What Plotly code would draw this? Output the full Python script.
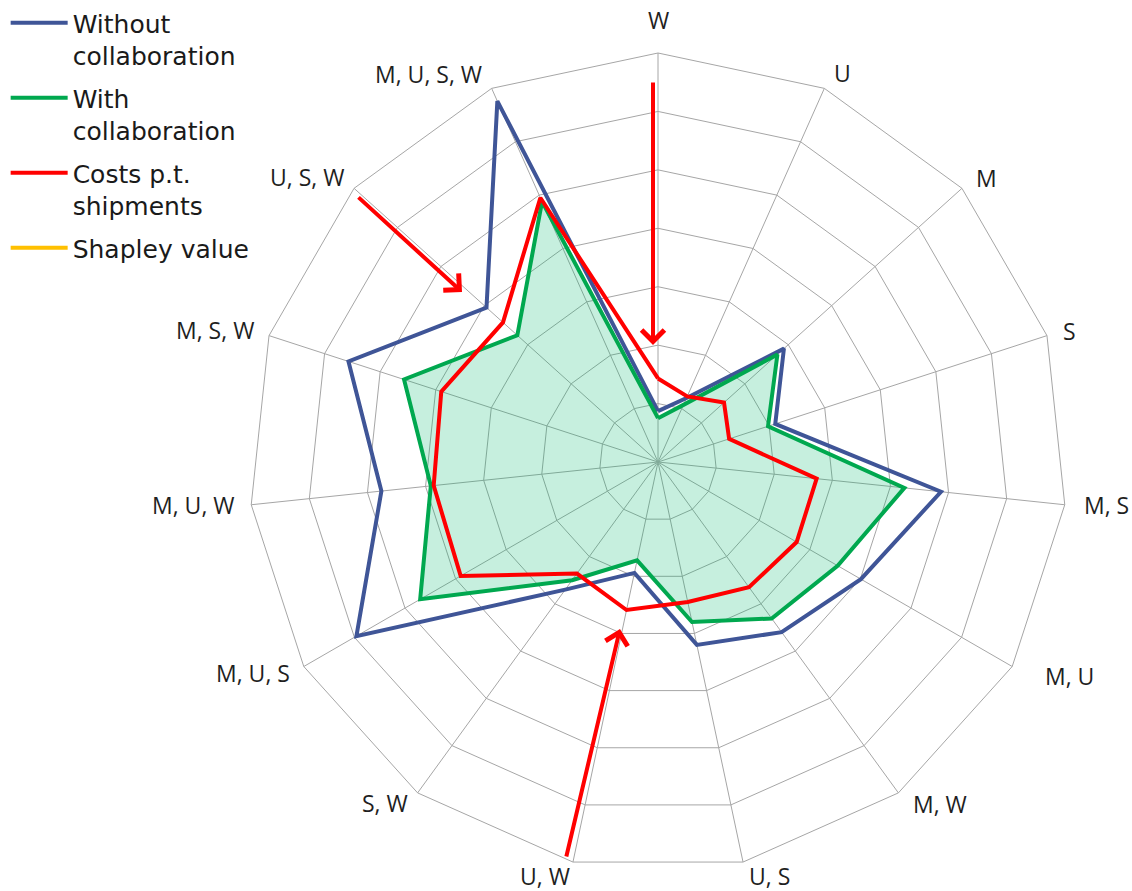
import plotly.graph_objects as go

categories = ["W", "U", "M", "S", "M, S", "M, U", "M, W", "U, S", "U, W",
              "S, W", "M, U, S", "M, U, W", "M, S, W", "U, S, W", "M, U, S, W"]

without_collab = [0.87, 1.20, 2.90, 2.11, 4.87, 4.01, 3.60, 3.20, 1.94,
                  2.70, 5.96, 4.76, 5.57, 3.95, 6.76]
with_collab = [0.75, 1.07, 2.75, 1.98, 4.24, 3.55, 3.31, 2.80, 1.72,
               2.50, 4.70, 3.91, 4.57, 3.24, 4.88]
costs_pt = [1.43, 1.23, 1.52, 1.28, 2.73, 2.74, 2.65, 2.45, 2.59,
            2.36, 3.90, 3.86, 3.90, 3.57, 4.95]
shapley = []

W, H = 1132, 891

# category label centres (pixels) around the web
label_xy = [(658, 20), (842, 73), (986, 178), (1069, 331), (1106, 505),
            (1069, 676), (940, 804), (770, 876), (545, 876), (385, 803),
            (253, 673), (193, 505), (215, 330), (307, 177), (429, 74)]


def closed(v):
    return v + v[:1]


theta = closed(categories)

fig = go.Figure()
fig.add_trace(go.Scatterpolar(
    r=closed(with_collab), theta=theta, mode="lines", fill="toself",
    fillcolor="rgba(0,183,107,0.225)", line=dict(color="rgba(0,0,0,0)", width=0),
    showlegend=False, hoverinfo="skip"))
fig.add_trace(go.Scatterpolar(
    r=closed(without_collab), theta=theta, mode="lines", name="Without<br>collaboration",
    legendgroup="a", line=dict(color="#3F5597", width=4)))
fig.add_trace(go.Scatterpolar(
    r=closed(with_collab), theta=theta, mode="lines", name="With<br>collaboration",
    legendgroup="b", line=dict(color="#00A84F", width=4)))
fig.add_trace(go.Scatterpolar(
    r=closed(costs_pt), theta=theta, mode="lines", name="Costs p.t.<br>shipments",
    legendgroup="c", line=dict(color="#FF0000", width=4)))
fig.add_trace(go.Scatterpolar(
    r=shapley if shapley else [None], theta=categories[:1], mode="lines", name="Shapley value",
    legendgroup="d", line=dict(color="#FFC000", width=4)))

cx, cy, R = 658, 462, 409
fig.update_layout(
    width=W, height=H, autosize=False,
    margin=dict(l=0, r=0, t=0, b=0),
    paper_bgcolor="white",
    polar=dict(
        domain=dict(x=[(cx - R) / W, (cx + R) / W], y=[1 - (cy + R) / H, 1 - (cy - R) / H]),
        bgcolor="white",
        gridshape="linear",
        radialaxis=dict(range=[0, 7], dtick=1, showticklabels=False, ticks="",
                        showline=False, gridcolor="#A6A6A6", gridwidth=1),
        angularaxis=dict(rotation=90, direction="clockwise", categoryorder="array",
                         categoryarray=categories, showline=True, linecolor="#A6A6A6",
                         linewidth=1, gridcolor="#A6A6A6", ticks="", showticklabels=False),
    ),
    legend=dict(x=0.005, y=1.0, xanchor="left", yanchor="top", valign="top",
                font=dict(family="DejaVu Sans", size=25, color="#1A1A1A"),
                bgcolor="rgba(0,0,0,0)", itemwidth=57, tracegroupgap=7),
)

for name, (lx, ly) in zip(categories, label_xy):
    fig.add_annotation(x=lx / W, y=1 - ly / H, xref="paper", yref="paper", text=name,
                       showarrow=False, xanchor="center", yanchor="middle",
                       font=dict(family="Open Sans", size=23, color="#1F1F1F"))

arrows = [((653, 345), (653, 81)), ((462, 292), (357, 196)), ((620, 629), (566, 858))]
for (hx, hy), (tx, ty) in arrows:
    fig.add_annotation(x=hx / W, y=1 - hy / H, xref="paper", yref="paper", text="",
                       showarrow=True, arrowhead=4, arrowsize=1.1, arrowwidth=4,
                       arrowcolor="#FF0000", ax=tx - hx, ay=ty - hy, standoff=0)

fig.write_html("out.html", config={"displayModeBar": False},
               post_script="document.body.style.margin='0';document.body.style.overflow='hidden';")
